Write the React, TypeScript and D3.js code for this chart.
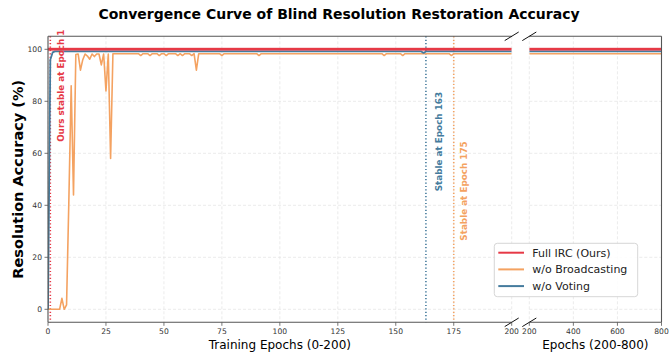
import React from "react";
import * as d3 from "d3";

// series names + colours
const seriesNames = ["Full IRC (Ours)", "w/o Broadcasting", "w/o Voting"];
const seriesColors = ["#e63946", "#f4a261", "#457b9d"];

// epoch 0-200, [epoch, accuracy]
const oursEarly: [number, number][] = [[0, 100], [200, 100]];
const broadcastEarly: [number, number][] = [
  [0, 0], [5, 0], [6, 4.2], [7, 0], [8, 1.7], [9, 42], [10, 86], [11, 44],
  [12, 98], [13, 98.2], [14, 92], [15, 96], [16, 98.2], [17, 97.4], [18, 96.2],
  [19, 98.2], [20, 97.2], [21, 98.2], [22, 98.2], [23, 94], [24, 98.2], [25, 84],
  [26, 98.2], [27, 58], [28, 98.3], [39, 98.3], [40, 97.6], [41, 98.3], [43, 98.3],
  [44, 97.6], [45, 98.3], [47, 98.3], [48, 97.6], [49, 98.3], [50, 98.3], [51, 97.6],
  [52, 98.3], [55, 98.3], [56, 97.6], [57, 98.3], [58, 97.6], [59, 98.3], [61, 98.3],
  [62, 97.6], [63, 98.3], [64, 92], [65, 98.3], [74, 98.3], [75, 97.6], [76, 98.3],
  [90, 98.3], [91, 97.6], [92, 98.3], [144, 98.3], [145, 97.6], [146, 98.3],
  [152, 98.3], [153, 97.6], [154, 98.3], [173, 98.3], [174, 97.6], [175, 98.3],
  [200, 98.3],
];
const votingEarly: [number, number][] = [
  [0, 0], [1, 96], [2, 98.8], [3, 99.2], [161, 99.2], [162, 98.6], [163, 99.2], [200, 99.2],
];

// epoch 200-800
const oursLate: [number, number][] = [[200, 100], [800, 100]];
const broadcastLate: [number, number][] = [[200, 98.3], [800, 98.3]];
const votingLate: [number, number][] = [[200, 99.2], [800, 99.2]];

// stable epochs: ours, w/o voting, w/o broadcasting
const stableEpochs = [1, 163, 175];
const stableLabels = ["Ours stable at Epoch 1", "Stable at Epoch 163", "Stable at Epoch 175"];
const stableSeries = [0, 2, 1];
const stableLabelY = [86, 64.5, 45.5];

const yTicks = [0, 20, 40, 60, 80, 100];
const xTicksLeft = [0, 25, 50, 75, 100, 125, 150, 175, 200];
const xTicksRight = [200, 400, 600, 800];

const W = 669, H = 354;
const top = 36.3, bottom = 322.3;
const leftL = 48, rightL = 511.7, leftR = 529.3, rightR = 661.5;
const font = "DejaVu Sans, sans-serif";

export default function App() {
  const y = d3.scaleLinear().domain([-5, 105]).range([bottom, top]);
  const xL = d3.scaleLinear().domain([0, 200]).range([leftL, rightL]);
  const xR = d3.scaleLinear().domain([200, 800]).range([leftR, rightR]);
  const lineL = d3.line<[number, number]>().x(d => xL(d[0])).y(d => y(d[1]));
  const lineR = d3.line<[number, number]>().x(d => xR(d[0])).y(d => y(d[1]));

  const early = [oursEarly, broadcastEarly, votingEarly];
  const late = [oursLate, broadcastLate, votingLate];
  const widths = [2.4, 1.6, 1.8];
  const grid = "#e2e2e2";
  const spine = "#555";

  const slash = (cx: number, cy: number, k: string) => (
    <line key={k} x1={cx - 7} y1={cy + 4.3} x2={cx + 7} y2={cy - 4.3} stroke="#111" strokeWidth={1} />
  );

  return (
    <svg width={W} height={H} style={{ display: "block", position: "absolute", left: 0, top: 0 }} fontFamily={font}>
      <rect width={W} height={H} fill="white" />
      <defs>
        <clipPath id="clipL"><rect x={leftL} y={top} width={rightL - leftL} height={bottom - top} /></clipPath>
        <clipPath id="clipR"><rect x={leftR} y={top} width={rightR - leftR} height={bottom - top} /></clipPath>
      </defs>

      {/* grid */}
      {yTicks.map(t => (
        <g key={"gy" + t}>
          <line x1={leftL} x2={rightL} y1={y(t)} y2={y(t)} stroke={grid} strokeDasharray="3,2" strokeWidth={0.7} />
          <line x1={leftR} x2={rightR} y1={y(t)} y2={y(t)} stroke={grid} strokeDasharray="3,2" strokeWidth={0.7} />
        </g>
      ))}
      {xTicksLeft.map(t => (
        <line key={"gxl" + t} x1={xL(t)} x2={xL(t)} y1={top} y2={bottom} stroke={grid} strokeDasharray="3,2" strokeWidth={0.7} />
      ))}
      {xTicksRight.map(t => (
        <line key={"gxr" + t} x1={xR(t)} x2={xR(t)} y1={top} y2={bottom} stroke={grid} strokeDasharray="3,2" strokeWidth={0.7} />
      ))}

      {/* stable markers */}
      {stableEpochs.map((e, i) => (
        <line key={"sv" + i} x1={xL(e)} x2={xL(e)} y1={top} y2={bottom}
          stroke={seriesColors[stableSeries[i]]} strokeWidth={1.6} strokeDasharray="1.2,2.2" />
      ))}

      {/* lines */}
      <g clipPath="url(#clipL)">
        <path d={lineL(oursEarly) || ""} fill="none" stroke={seriesColors[0]} strokeOpacity={0.25} strokeWidth={4.2} />
        {[1, 2, 0].map(i => (
          <path key={"l" + i} d={lineL(early[i]) || ""} fill="none" stroke={seriesColors[i]}
            strokeWidth={widths[i]} strokeLinejoin="round" />
        ))}
      </g>
      <g clipPath="url(#clipR)">
        <path d={lineR(oursLate) || ""} fill="none" stroke={seriesColors[0]} strokeOpacity={0.25} strokeWidth={4.2} />
        {[1, 2, 0].map(i => (
          <path key={"r" + i} d={lineR(late[i]) || ""} fill="none" stroke={seriesColors[i]} strokeWidth={widths[i]} />
        ))}
      </g>

      {/* stable labels */}
      {stableEpochs.map((e, i) => {
        const cx = xL(e) + (i === 1 ? 13.5 : 10.5);
        const cy = y(stableLabelY[i]);
        return (
          <text key={"st" + i} transform={`translate(${cx},${cy}) rotate(-90)`} textAnchor="middle"
            dominantBaseline="central" fontSize={8.8} fontWeight="bold" fill={seriesColors[stableSeries[i]]}>
            {stableLabels[i]}
          </text>
        );
      })}

      {/* spines */}
      <g stroke={spine} strokeWidth={1.1} fill="none">
        <line x1={leftL} x2={leftL} y1={top} y2={bottom} />
        <line x1={leftL} x2={rightL} y1={top} y2={top} />
        <line x1={leftL} x2={rightL} y1={bottom} y2={bottom} />
        <line x1={rightR} x2={rightR} y1={top} y2={bottom} />
        <line x1={leftR} x2={rightR} y1={top} y2={top} />
        <line x1={leftR} x2={rightR} y1={bottom} y2={bottom} />
      </g>
      {slash(rightL, top, "s1")}
      {slash(leftR, top, "s2")}
      {slash(rightL, bottom, "s3")}
      {slash(leftR, bottom, "s4")}

      {/* y ticks */}
      {yTicks.map(t => (
        <g key={"yt" + t}>
          <line x1={leftL - 3.5} x2={leftL} y1={y(t)} y2={y(t)} stroke={spine} strokeWidth={0.8} />
          <text x={leftL - 6} y={y(t)} dy="0.35em" textAnchor="end" fontSize={7.6} fill="#333">{t}</text>
        </g>
      ))}
      {/* x ticks */}
      {xTicksLeft.map(t => (
        <g key={"xtl" + t}>
          <line x1={xL(t)} x2={xL(t)} y1={bottom} y2={bottom + 3.5} stroke={spine} strokeWidth={0.8} />
          <text x={xL(t)} y={bottom + 11.2} textAnchor="middle" fontSize={7.6} fill="#333">{t}</text>
        </g>
      ))}
      {xTicksRight.map(t => (
        <g key={"xtr" + t}>
          <line x1={xR(t)} x2={xR(t)} y1={bottom} y2={bottom + 3.5} stroke={spine} strokeWidth={0.8} />
          <text x={xR(t)} y={bottom + 11.2} textAnchor="middle" fontSize={7.6} fill="#333">{t}</text>
        </g>
      ))}

      {/* axis labels */}
      <text x={(leftL + rightL) / 2} y={348.5} textAnchor="middle" fontSize={12}>Training Epochs (0-200)</text>
      <text x={(leftR + rightR) / 2} y={348.5} textAnchor="middle" fontSize={12}>Epochs (200-800)</text>
      <text transform={`translate(17.5,${(top + bottom) / 2}) rotate(-90)`} textAnchor="middle"
        dominantBaseline="central" fontSize={14.5} fontWeight="bold">Resolution Accuracy (%)</text>
      <text x={339} y={19} textAnchor="middle" fontSize={14} fontWeight="bold">
        Convergence Curve of Blind Resolution Restoration Accuracy
      </text>

      {/* legend */}
      <g transform="translate(494.3,243.3)">
        <rect width={143.4} height={53.4} rx={3} fill="white" fillOpacity={0.85} stroke="#cccccc" strokeWidth={0.8} />
        {seriesNames.map((n, i) => (
          <g key={"lg" + i} transform={`translate(0,${9.4 + i * 16.7})`}>
            <line x1={4} x2={29.7} stroke={seriesColors[i]} strokeWidth={2} />
            <text x={38} dy="0.35em" fontSize={11} fill="#222">{n}</text>
          </g>
        ))}
      </g>
    </svg>
  );
}
